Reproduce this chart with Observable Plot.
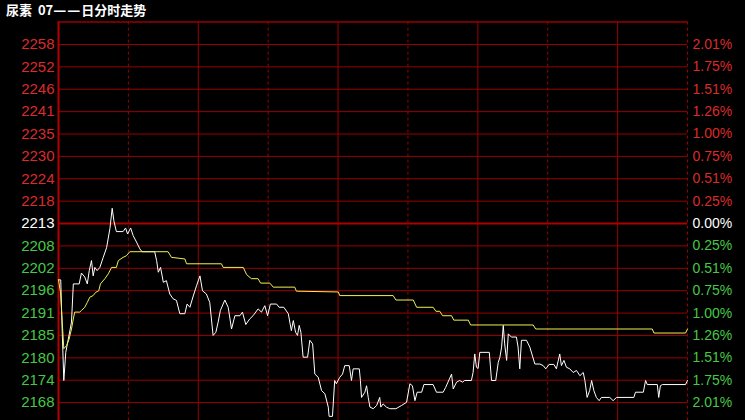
<!DOCTYPE html>
<html><head><meta charset="utf-8">
<script src="https://cdn.jsdelivr.net/npm/d3@7"></script>
<script src="https://cdn.jsdelivr.net/npm/@observablehq/plot@0.6"></script>
<style>
html,body{margin:0;padding:0;background:#000;width:745px;height:420px;overflow:hidden;}
#title{height:20px;line-height:20px;color:#fff;font:bold 13px "Noto Sans CJK SC",sans-serif;padding-left:6px;white-space:pre;word-spacing:3px;}
#title .dash{font-family:"DejaVu Sans",sans-serif;font-weight:bold;letter-spacing:1px;}
#chart svg{display:block;}
</style></head><body>
<div id="title"></div>
<div id="chart"></div>
<script>
const titleText = "尿素 07——日分时走势";
const prevClose = 2213;
const stepPct = 0.0201 / 8;
const leftLabels = ["2258","2252","2246","2241","2235","2230","2224","2218","2213","2208","2202","2196","2191","2185","2180","2174","2168"];
const rightLabels = ["2.01%","1.75%","1.51%","1.26%","1.00%","0.75%","0.51%","0.25%","0.00%","0.25%","0.51%","0.75%","1.00%","1.26%","1.51%","1.75%","2.01%"];
const gridSteps = [8,7,6,5,4,3,2,1,0,-1,-2,-3,-4,-5,-6,-7,-8];
const dashedMinutes = [25,75,125,175,225];
const solidMinutes = [50,100,150,200];

const priceMinutes = [0,0.8,1.3,1.9,2.6,3.5,4.65,5.3,7.4,8.2,9.4,10.3,11,11.8,12.4,13,13.8,14.8,16,17.2,18.4,19.2,19.8,20.7,23.1,24,24.7,25.8,26.7,27.9,29.1,29.9,34.4,35.1,35.7,36.5,37.5,38.6,39.8,41,42.2,43.4,45.2,46,47,48.2,49.4,50.6,51.5,52.9,54.1,55.3,56.3,57.1,57.9,59.5,60.7,61.9,63.1,64.9,65.8,67,68.4,69.6,71.4,72.6,73.8,74.8,75.8,78,78.9,80.6,82.2,83.3,84,84.8,85.5,86.1,86.7,87.5,89.1,89.9,90.9,91.7,92.9,94.1,95.3,96.5,96.8,98,98.8,99.4,100.6,101.6,102.4,104,104.8,105.4,107.6,108,108.4,109.6,110.2,110.8,111.4,112.6,113.8,114.9,115.3,116.1,117.3,118.5,120.7,122.7,124.5,125.7,126.6,127.5,128.3,129.9,130.7,134,135.2,137.6,138.5,140.6,141.2,142.4,143.5,144.5,145.3,147.7,148.3,148.9,149.5,150.1,150.7,154.1,154.9,156.4,157.3,157.9,158.5,159.1,159.6,160.3,160.9,162,163.8,164.4,165,165.6,167.4,168.6,170.4,172.2,173.4,174.3,175.5,177.2,178.1,179.3,179.9,180.8,181.7,182.9,184.1,185.3,186.5,187.7,188.3,189.1,190,190.7,191.5,192.4,193.4,194.2,197.2,198.4,199.6,205.8,206.4,209.2,210,210.6,214.2,214.7,215.3,216,224.3,225];
const priceValues = [2199,2199,2186.8,2174,2181,2184.3,2188.5,2198,2198,2200.7,2199.7,2198,2201.3,2203.8,2200,2202.1,2201.3,2202.1,2204.6,2207,2211.8,2216.8,2213.7,2211,2211,2211.9,2210.4,2211.9,2210,2208.4,2206.7,2206,2206,2203.8,2200.9,2202.1,2198.4,2198.8,2195.5,2194.3,2193.9,2190.6,2190.6,2193,2192.2,2195,2197.6,2200,2196.3,2195.5,2193.4,2185.2,2186,2188.5,2191.4,2194,2192.2,2186.8,2190.1,2190.1,2191,2187.9,2189.3,2190.1,2191.8,2191,2192.6,2190.1,2193,2193,2192.2,2192.2,2190.6,2186.4,2188.9,2186,2185.2,2187.7,2186,2179.8,2179.8,2184,2183.1,2175.6,2174.8,2171.5,2170.7,2167.4,2165.1,2165.1,2174,2173.2,2174.8,2175.6,2177.7,2177.7,2174,2176.9,2176.9,2174,2169.8,2171.1,2172.7,2169.8,2167.4,2167,2167.8,2169.8,2167.4,2168.2,2167.4,2167,2167,2167.8,2168.6,2173.2,2172.7,2169,2171.1,2171.1,2173,2173,2171.1,2171.1,2172.3,2175.6,2171.9,2173.6,2174,2173.6,2174,2174,2176,2180.6,2177.3,2177,2181,2181,2174,2174,2178.5,2179.8,2182.3,2187.7,2183.1,2179,2185.6,2184.8,2184.8,2182.3,2176.9,2184,2184,2182.3,2178.1,2178.1,2177.7,2176.9,2178,2178,2176.9,2180.6,2177.7,2179,2177.3,2176.9,2176,2176.5,2175.2,2176,2174,2169.8,2171.5,2174,2171.5,2169.8,2169,2169.8,2169.8,2169,2169.8,2169.8,2171.1,2171.1,2174,2173,2173,2169.8,2172.7,2173,2173,2174];

const avgMinutes = [0,0.7,1.9,2.9,3.8,4.65,5.3,5.8,7.6,8.2,9.4,10.3,11.2,12.4,13.3,14.4,15,16.6,17.8,19,20.7,21.4,23.1,24.3,25.5,39.2,40.4,45.2,45.8,58.3,58.9,66.1,67.3,69,71.4,72.3,75.6,76.8,84.5,85.1,100.1,100.6,119.7,120.7,126.9,128.1,134,135,136.4,137.4,140.6,141.4,146.6,147.4,169.8,170.7,212.4,213,224.3,225];
const avgValues = [2199,2196,2181.9,2182.7,2184.3,2186.8,2189.3,2191,2191,2191.4,2192.2,2193.4,2194.7,2195.1,2195.9,2196.3,2198,2199.3,2200.5,2202.1,2202.1,2203.8,2204.6,2205,2206,2206,2204.6,2204.2,2203,2203,2202.1,2202.1,2200.3,2199.3,2199.3,2198.2,2198.2,2197.2,2197.2,2196.2,2196,2195.1,2195.1,2194,2194,2192.2,2192.2,2191.2,2191.2,2190.1,2190.1,2189,2189,2187.8,2187.8,2186.8,2186.8,2185.8,2185.8,2186.8];

document.getElementById("title").innerHTML = titleText.replace("——", '<span class="dash">——</span>');

const step = prevClose * stepPct;
const rows = gridSteps.map((k, i) => ({
  k, v: prevClose + k * step, left: leftLabels[i], right: rightLabels[i],
  color: k > 0 ? "#dc2a2a" : k === 0 ? "#ffffff" : "#46c846"
}));
const price = priceMinutes.map((m, i) => ({m, v: priceValues[i]}));
const avg = avgMinutes.map((m, i) => ({m, v: avgValues[i]}));
const gridColor = "#9a0000";
const font = "'Liberation Sans', Arial, sans-serif";

const chart = Plot.plot({
  width: 745, height: 400,
  marginLeft: 58, marginRight: 58, marginTop: 1.6, marginBottom: 0,
  style: {background: "#000", overflow: "visible"},
  x: {domain: [0, 225], axis: null},
  y: {domain: [prevClose - 8.8 * step, prevClose + 9 * step], axis: null},
  color: {type: "identity"},
  marks: [
    Plot.ruleY(rows.filter(d => d.k !== 0), {y: "v", stroke: gridColor, strokeWidth: 1}),
    Plot.ruleY([prevClose + 9 * step], {stroke: gridColor, strokeWidth: 1.5}),
    Plot.ruleY(rows.filter(d => d.k === 0), {y: "v", stroke: "#ac0000", strokeWidth: 2}),
    Plot.ruleX(solidMinutes, {stroke: gridColor, strokeWidth: 1}),
    Plot.ruleX(dashedMinutes, {stroke: gridColor, strokeWidth: 1, strokeDasharray: "3,3"}),
    Plot.ruleX([0], {stroke: "#b40000", strokeWidth: 2}),
    Plot.text(rows, {y: "v", text: "left", frameAnchor: "left", textAnchor: "end", dx: -4, fill: "color", fontSize: 15, fontFamily: font}),
    Plot.text(rows, {y: "v", text: "right", frameAnchor: "right", textAnchor: "start", dx: 5, fill: "color", fontSize: 14, fontFamily: font}),
    Plot.line(price, {x: "m", y: "v", stroke: "#ffffff", strokeWidth: 1}),
    Plot.line(avg, {x: "m", y: "v", stroke: "#f0f050", strokeWidth: 1})
  ]
});
document.getElementById("chart").appendChild(chart);
</script>
</body></html>
